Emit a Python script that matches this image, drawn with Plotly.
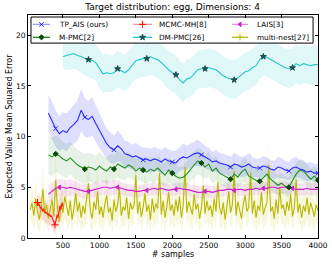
import plotly.graph_objects as go

# ---------------- data ----------------
x_tp = list(range(300, 4001, 50))
tp_ais = [12.3, 11.6, 10.8, 10.3, 10.6, 10.4, 10.9, 11.2, 11.6, 12.6,
          11.9, 11.7, 12.0, 11.3, 10.6, 9.9, 9.3, 8.9, 8.7, 9.1,
          8.8, 8.3, 8.2, 8.0, 8.1, 7.9, 7.7, 7.8, 7.6, 7.8,
          7.7, 7.5, 7.8, 7.6, 7.5, 7.4, 7.8, 8.0, 7.9, 8.1,
          8.3, 8.4, 8.2, 8.0, 7.8, 7.5, 7.6, 7.4, 7.3, 7.2,
          7.0, 7.3, 7.2, 7.0, 7.1, 7.3, 7.0, 6.9, 6.9, 7.1,
          7.0, 6.8, 6.7, 7.0, 6.9, 6.7, 6.6, 6.9, 7.0, 6.8,
          6.7, 6.5, 6.6, 6.4, 6.4]
tp_ais_std = [1.8, 1.9, 1.8, 1.7, 1.8, 1.9, 1.8, 1.9, 2.0, 2.1,
              1.9, 1.8, 1.9, 1.8, 1.7, 1.6, 1.5, 1.5, 1.4, 1.5,
              1.4, 1.3, 1.3, 1.2, 1.3, 1.2, 1.2, 1.1, 1.2, 1.2,
              1.1, 1.2, 1.2, 1.1, 1.1, 1.2, 1.2, 1.3, 1.2, 1.2,
              1.2, 1.3, 1.2, 1.1, 1.1, 1.0, 1.1, 1.0, 1.0, 1.0,
              1.0, 1.1, 1.0, 1.0, 1.0, 1.1, 1.0, 0.9, 1.0, 1.0,
              1.0, 0.9, 0.9, 1.0, 1.0, 0.9, 0.9, 1.0, 1.0, 0.9,
              0.9, 0.9, 0.9, 0.9, 0.9]

x_mp = list(range(300, 4001, 50))
m_pmc = [8.2, 8.0, 8.3, 8.1, 7.8, 7.6, 7.9, 7.5, 7.2, 7.0,
         6.8, 7.0, 6.9, 6.7, 7.1, 6.8, 6.6, 7.0, 6.8, 7.3,
         7.1, 6.9, 7.2, 7.0, 6.6, 6.9, 6.7, 6.5, 6.8, 6.6,
         6.9, 6.5, 6.2, 6.7, 6.4, 6.1, 5.9, 6.0, 6.3, 6.8,
         7.2, 7.6, 7.4, 7.0, 7.3, 6.6, 6.9, 6.4, 6.2, 6.0,
         5.8, 6.3, 6.0, 6.5, 6.8, 6.1, 5.9, 5.7, 5.6, 6.0,
         6.3, 5.8, 5.5, 5.2, 5.4, 5.1, 5.0, 5.7, 6.3, 6.7,
         6.6, 6.2, 5.8, 6.1, 5.7]
m_pmc_std = [1.9, 1.9, 1.8, 1.8, 1.7, 1.7, 1.6, 1.6, 1.5, 1.5,
             1.5, 1.4, 1.4, 1.4, 1.4, 1.3, 1.3, 1.3, 1.3, 1.3,
             1.3, 1.2, 1.2, 1.2, 1.2, 1.2, 1.2, 1.2, 1.2, 1.2,
             1.2, 1.2, 1.2, 1.2, 1.2, 1.2, 1.1, 1.1, 1.2, 1.2,
             1.3, 1.3, 1.3, 1.2, 1.2, 1.2, 1.2, 1.1, 1.1, 1.1,
             1.1, 1.1, 1.1, 1.1, 1.2, 1.1, 1.1, 1.1, 1.0, 1.1,
             1.1, 1.1, 1.0, 1.0, 1.0, 1.0, 1.0, 1.1, 1.1, 1.1,
             1.1, 1.0, 1.0, 1.0, 1.0]

x_la = list(range(300, 4001, 50))
lais = [4.3, 4.6, 4.9, 5.0, 5.0, 4.9, 5.0, 4.9, 4.8, 4.7,
        4.6, 4.6, 4.7, 4.8, 4.9, 5.0, 5.0, 4.9, 5.0, 5.0,
        4.9, 4.8, 4.7, 4.7, 4.6, 4.6, 4.7, 4.7, 4.8, 4.9,
        4.8, 4.9, 4.8, 4.7, 4.8, 4.8, 4.9, 4.8, 4.8, 4.7,
        4.6, 4.5, 4.5, 4.6, 4.6, 4.5, 4.6, 4.7, 4.7, 4.8,
        4.8, 4.7, 4.8, 4.8, 4.7, 4.8, 4.8, 4.9, 4.8, 4.9,
        4.9, 5.0, 5.0, 4.9, 5.0, 5.0, 4.9, 4.9, 4.8, 4.8,
        4.8, 4.9, 4.8, 4.8, 4.8]
lais_std = [0.9, 0.9, 0.9, 0.8, 0.8, 0.8, 0.8, 0.8, 0.7, 0.7,
            0.7, 0.7, 0.7, 0.7, 0.7, 0.7, 0.7, 0.7, 0.7, 0.7,
            0.6, 0.6, 0.6, 0.6, 0.6, 0.6, 0.6, 0.6, 0.6, 0.6,
            0.6, 0.6, 0.6, 0.6, 0.6, 0.6, 0.6, 0.6, 0.6, 0.6,
            0.6, 0.6, 0.6, 0.6, 0.6, 0.6, 0.6, 0.6, 0.6, 0.6,
            0.6, 0.6, 0.6, 0.6, 0.6, 0.6, 0.6, 0.6, 0.6, 0.6,
            0.6, 0.6, 0.6, 0.6, 0.6, 0.6, 0.6, 0.6, 0.6, 0.6,
            0.6, 0.6, 0.6, 0.6, 0.6]

x_dm = list(range(500, 4001, 50))
dm_pmc = [17.9, 18.0, 18.1, 18.2, 18.0, 17.9, 17.7, 17.6, 17.5, 17.3,
          16.7, 16.2, 16.3, 16.2, 16.3, 16.7, 16.5, 16.3, 16.6, 17.1,
          17.5, 17.6, 17.7, 17.7, 17.9, 17.7, 17.6, 17.3, 16.9, 16.6,
          16.3, 16.1, 15.6, 15.3, 15.7, 15.8, 16.2, 16.6, 16.7, 16.7,
          16.8, 16.7, 16.6, 16.3, 16.0, 15.8, 15.7, 15.6, 15.8, 16.1,
          16.4, 16.5, 16.8, 17.0, 17.6, 17.9, 17.8, 17.6, 17.4, 17.2,
          17.0, 16.8, 16.7, 16.8, 17.2, 17.0, 17.2, 17.1, 17.0, 17.1,
          17.1]
dm_pmc_std = [1.3, 1.4, 1.5, 1.5, 1.5, 1.6, 1.7, 1.7, 1.8, 1.8,
              1.9, 1.9, 1.9, 1.8, 1.8, 1.8, 1.8, 1.8, 1.8, 1.8,
              1.8, 1.8, 1.8, 1.8, 1.8, 1.8, 1.8, 1.8, 1.9, 1.9,
              1.9, 1.9, 1.9, 1.9, 1.9, 1.9, 1.9, 1.9, 1.9, 1.9,
              1.9, 1.9, 1.9, 1.9, 1.9, 1.9, 1.9, 1.9, 1.9, 1.9,
              1.9, 1.9, 1.9, 1.9, 1.9, 1.9, 1.9, 1.9, 1.9, 1.9,
              1.9, 1.9, 1.9, 1.9, 1.9, 1.9, 1.9, 1.9, 1.9, 1.9,
              1.9]

x_mh = list(range(150, 501, 10))
mcmc_mh = [3.5, 3.2, 3.4, 3.0, 2.9, 3.1, 2.8, 2.6, 2.9, 2.7,
           2.5, 2.6, 2.4, 2.5, 2.3, 2.4, 2.2, 2.3, 2.1, 2.2,
           2.0, 1.8, 1.6, 1.4, 1.3, 1.6, 2.0, 2.3, 2.0, 2.6,
           2.9, 3.2, 2.8, 3.3, 3.5, 3.1]
mcmc_mh_std = [1.0, 1.0, 1.1, 1.0, 1.0, 1.1, 1.0, 1.0, 1.1, 1.0,
               1.0, 1.0, 1.0, 1.0, 1.0, 1.0, 1.0, 1.0, 1.0, 1.0,
               1.0, 1.0, 1.0, 1.0, 1.0, 1.0, 1.1, 1.1, 1.1, 1.2,
               1.2, 1.2, 1.2, 1.2, 1.2, 1.2]

x_mn = list(range(50, 4001, 25))
multi_nest = [2.8, 3.5, 2.2, 3.9, 2.6, 1.8, 3.1, 4.8, 2.4, 3.3,
              1.9, 2.7, 3.8, 2.1, 5.7, 2.9, 1.6, 3.4, 2.5, 4.1,
              3.0, 2.2, 3.7, 1.8, 2.9, 4.4, 2.6, 3.5, 2.0, 3.2,
              2.4, 3.9, 5.4, 2.7, 1.9, 3.6, 2.8, 4.6, 2.3, 3.1,
              2.0, 3.4, 4.2, 2.5, 3.0, 1.7, 3.8, 2.6, 3.3, 4.9,
              2.2, 3.1, 2.7, 4.0, 1.9, 3.5, 2.8, 3.2, 6.2, 2.4,
              3.6, 2.1, 3.0, 4.4, 2.6, 3.3, 1.8, 3.9, 2.5, 3.4,
              2.9, 6.4, 2.3, 3.7, 2.0, 3.1, 4.5, 2.7, 3.3, 2.2,
              3.8, 2.6, 4.1, 2.0, 3.2, 7.0, 2.5, 3.6, 2.9, 2.3,
              4.3, 2.8, 3.4, 1.9, 3.0, 5.2, 2.4, 3.7, 2.7, 3.2,
              2.1, 3.9, 2.6, 5.5, 3.0, 2.3, 3.5, 1.8, 3.1, 4.6,
              2.5, 3.3, 6.6, 2.2, 3.6, 2.8, 1.9, 3.4, 4.2, 2.6,
              3.1, 6.4, 2.4, 3.7, 2.0, 3.2, 2.7, 4.5, 2.3, 3.0,
              3.5, 7.2, 2.6, 3.1, 1.9, 3.8, 2.4, 5.0, 2.9, 3.3,
              2.2, 3.6, 2.7, 4.3, 2.1, 3.0, 5.8, 2.5, 3.4, 2.0,
              3.2, 2.6, 4.0, 2.3, 3.5, 2.8, 2.1, 3.3, 2.7]
multi_nest_std = [1.5, 1.8, 1.4, 2.0, 1.6, 1.3, 1.7, 2.3, 1.5, 1.8,
                  1.3, 1.6, 2.0, 1.4, 2.5, 1.7, 1.2, 1.8, 1.5, 2.1,
                  1.7, 1.4, 1.9, 1.3, 1.7, 2.2, 1.6, 1.9, 1.4, 1.8,
                  1.5, 2.0, 2.4, 1.6, 1.3, 1.9, 1.7, 2.2, 1.5, 1.8,
                  1.4, 1.8, 2.1, 1.5, 1.7, 1.2, 2.0, 1.6, 1.8, 2.3,
                  1.4, 1.8, 1.6, 2.0, 1.3, 1.9, 1.7, 1.8, 2.6, 1.5,
                  1.9, 1.4, 1.7, 2.2, 1.6, 1.8, 1.3, 2.0, 1.5, 1.8,
                  1.7, 2.6, 1.5, 1.9, 1.4, 1.8, 2.2, 1.6, 1.8, 1.4,
                  2.0, 1.6, 2.1, 1.4, 1.8, 2.8, 1.5, 1.9, 1.7, 1.5,
                  2.1, 1.7, 1.9, 1.3, 1.7, 2.4, 1.5, 2.0, 1.6, 1.8,
                  1.4, 2.0, 1.6, 2.5, 1.7, 1.5, 1.9, 1.3, 1.8, 2.2,
                  1.5, 1.8, 2.7, 1.4, 1.9, 1.7, 1.3, 1.8, 2.1, 1.6,
                  1.8, 2.6, 1.5, 1.9, 1.4, 1.8, 1.6, 2.2, 1.5, 1.7,
                  1.9, 2.8, 1.6, 1.8, 1.3, 2.0, 1.5, 2.4, 1.7, 1.8,
                  1.4, 1.9, 1.6, 2.1, 1.4, 1.7, 2.5, 1.5, 1.9, 1.4,
                  1.8, 1.6, 2.0, 1.5, 1.9, 1.7, 1.4, 1.8, 1.6]

x_ticks = [500, 1000, 1500, 2000, 2500, 3000, 3500, 4000]
y_ticks = [0, 5, 10, 15, 20]

FONT = "DejaVu Sans"

# series: name, x, y, std, line color, band color, marker symbol, marker color,
#         marker size, marker indices, legend line color, legend column, legend row
series = [
    ("TP_AIS (ours)", x_tp, tp_ais, tp_ais_std, "#2a2aff", "rgba(0,0,255,0.13)",
     "x-thin", "#2a2aff", 4.5, list(range(2, len(x_tp), 8)), "rgba(90,90,255,0.6)", 0, 0),
    ("MCMC-MH[8]", x_mh, mcmc_mh, mcmc_mh_std, "#ff1a1a", "rgba(255,0,0,0.12)",
     "cross-thin", "#ff0000", 5, [0, 24], "rgba(255,60,60,0.55)", 1, 0),
    ("LAIS[3]", x_la, lais, lais_std, "#cc22cc", "rgba(191,0,191,0.10)",
     "triangle-left", "#cc22cc", 4, list(range(3, len(x_la), 8)), "rgba(210,60,210,0.6)", 2, 0),
    ("M-PMC[2]", x_mp, m_pmc, m_pmc_std, "#1f8f1f", "rgba(0,128,0,0.10)",
     "diamond", "#0a4a0a", 4, list(range(2, len(x_mp), 8)), "rgba(20,140,20,1)", 0, 1),
    ("DM-PMC[26]", x_dm, dm_pmc, dm_pmc_std, "#20c8c8", "rgba(0,191,191,0.12)",
     "star", "#1d4f4f", 4.5, list(range(7, len(x_dm), 8)), "rgba(30,200,200,1)", 1, 1),
    ("multi-nest[27]", x_mn, multi_nest, multi_nest_std, "#b8b800", "rgba(191,191,0,0.13)",
     "cross-thin", "#bcbc00", 4.5, [], "rgba(190,190,0,1)", 2, 1),
]

fig = go.Figure()

# bands
for s in series:
    name, xs, ys, sd, lc, bc = s[:6]
    upper = [y + v for y, v in zip(ys, sd)]
    lower = [max(y - v, 0.0) for y, v in zip(ys, sd)]
    fig.add_trace(go.Scatter(
        x=xs + xs[::-1], y=upper + lower[::-1], fill="toself",
        fillcolor=bc, line=dict(width=0), mode="lines",
        hoverinfo="skip", showlegend=False))

# lines (drawing order)
order = [5, 2, 3, 0, 4, 1]
for i in order:
    name, xs, ys, sd, lc, bc, sym, mc, ms, idx = series[i][:10]
    fig.add_trace(go.Scatter(x=xs, y=ys, mode="lines",
                             line=dict(color=lc, width=1.1),
                             showlegend=False, name=name))
    if idx:
        fig.add_trace(go.Scatter(x=[xs[k] for k in idx], y=[ys[k] for k in idx],
                                 mode="markers",
                                 marker=dict(symbol=sym, size=ms, color=mc,
                                             line=dict(color=mc, width=1)),
                                 showlegend=False, name=name))

# ---- legend box drawn in plot-fraction coordinates (overlay axes 0..1) ----
LEG_X0, LEG_X1, LEG_Y0, LEG_Y1 = 0.0103, 0.983, 0.874, 0.991
COL_LINE = [(0.017, 0.076), (0.362, 0.428), (0.703, 0.759)]
COL_TEXT = [0.100, 0.445, 0.783]
ROW_Y = [0.958, 0.900]

fig.add_trace(go.Scatter(
    x=[LEG_X0, LEG_X1, LEG_X1, LEG_X0, LEG_X0],
    y=[LEG_Y0, LEG_Y0, LEG_Y1, LEG_Y1, LEG_Y0],
    mode="lines", fill="toself", fillcolor="white",
    line=dict(color="black", width=1),
    xaxis="x2", yaxis="y2", showlegend=False, hoverinfo="skip"))

annotations = []
for s in series:
    name, xs, ys, sd, lc, bc, sym, mc, ms, idx, legc, col, row = s
    xa, xb = COL_LINE[col]
    yy = ROW_Y[row]
    fig.add_trace(go.Scatter(x=[xa, xb], y=[yy, yy], mode="lines",
                             line=dict(color=legc, width=1.3),
                             xaxis="x2", yaxis="y2", showlegend=False, hoverinfo="skip"))
    fig.add_trace(go.Scatter(x=[(xa + xb) / 2], y=[yy], mode="markers",
                             marker=dict(symbol=sym, size=ms, color=mc,
                                         line=dict(color=mc, width=1)),
                             xaxis="x2", yaxis="y2", showlegend=False, hoverinfo="skip"))
    annotations.append(dict(text=name, x=COL_TEXT[col], y=yy, xref="paper", yref="paper",
                            xanchor="left", yanchor="middle", showarrow=False,
                            font=dict(family=FONT, size=7.3, color="black")))

axis_common = dict(showgrid=False, zeroline=False, showline=True, linecolor="black",
                   linewidth=1, mirror="ticks", ticks="inside", ticklen=3,
                   tickcolor="black", automargin=False,
                   tickfont=dict(family=FONT, size=7.5, color="black"))

fig.update_layout(
    width=332, height=265,
    margin=dict(l=28, r=14, t=15, b=27),
    paper_bgcolor="white", plot_bgcolor="white",
    showlegend=False,
    title=dict(text="Target distribution: egg, Dimensions: 4",
               font=dict(family=FONT, size=9, color="black"),
               x=0.52, xanchor="center", y=0.974, yanchor="middle",
               automargin=False),
    xaxis=dict(range=[20, 4000], tickvals=x_ticks,
               title=dict(text="# samples", font=dict(family=FONT, size=8, color="black"),
                          standoff=2),
               **axis_common),
    yaxis=dict(range=[0, 22], tickvals=y_ticks,
               title=dict(text="Expected Value Mean Squared Error",
                          font=dict(family=FONT, size=8, color="black"), standoff=2),
               **axis_common),
    xaxis2=dict(overlaying="x", range=[0, 1], visible=False, fixedrange=True),
    yaxis2=dict(overlaying="y", range=[0, 1], visible=False, fixedrange=True),
    annotations=annotations,
)

fig.write_html("out.html",
               config={"displayModeBar": False},
               post_script="document.body.style.margin='0px';document.body.style.overflow='hidden';")
